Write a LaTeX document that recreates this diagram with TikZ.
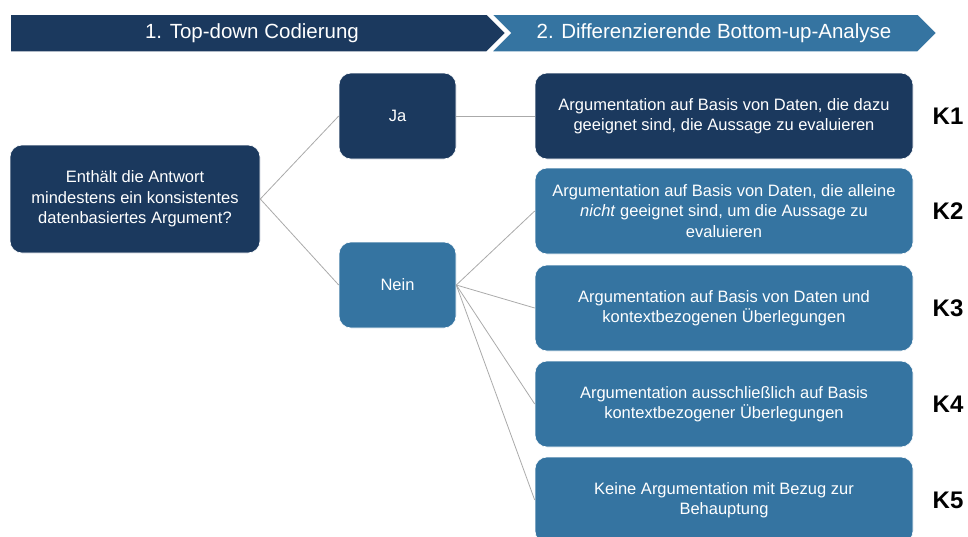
\documentclass[tikz,border=0pt]{standalone}
\usepackage{fontspec}
\setmainfont{Liberation Sans}
\definecolor{navy}{RGB}{27,57,94}
\definecolor{steel}{RGB}{53,116,161}
\definecolor{linegray}{RGB}{170,170,170}

\begin{document}
\begin{tikzpicture} [x = 1pt, y = -1pt,
	box/.style = {rounded corners = 12pt, draw = white, line width = 0.6pt, align = center, text = white, inner sep = 0pt, font = \fontsize{16.5}{20.5}\selectfont},
	dark/.style = {box, fill = navy},
	light/.style = {box, fill = steel},
	klabel/.style = {font = \fontsize{24}{28}\selectfont\bfseries},
	link/.style = {draw = linegray, line width = 0.8pt}]
	\clip (0,0) rectangle (968,536);
	% header
	\draw [fill = navy, draw = white, line width = 1.5pt] (10,14) -- (487,14) -- (506,33) -- (487,52) -- (10,52) -- cycle;
	\draw [fill = steel, draw = white, line width = 1.5pt] (491,14) -- (918,14) -- (937,33) -- (918,52) -- (491,52) -- (510,33) -- cycle;
	\node [text = white, font = \fontsize{20.5}{24}\selectfont] (head1) at (252,33) {1. Top-down Codierung};
	\node [text = white, font = \fontsize{20.5}{24}\selectfont] (head2) at (714,33) {2. Differenzierende Bottom-up-Analyse};
	% decision tree
	\node [dark, minimum width = 250pt, minimum height = 108pt] (frage) at (135,199) {Enthält die Antwort\\mindestens ein konsistentes\\datenbasiertes Argument?};
	\node [dark, minimum width = 117pt, minimum height = 86pt] (ja) at (397.5,116) {Ja};
	\node [light, minimum width = 117pt, minimum height = 86pt] (nein) at (397.5,285) {Nein};
	\node [dark, minimum width = 378pt, minimum height = 86pt] (k1) at (724,116) {Argumentation auf Basis von Daten, die dazu\\geeignet sind, die Aussage zu evaluieren};
	\node [light, minimum width = 378pt, minimum height = 86pt] (k2) at (724,211) {Argumentation auf Basis von Daten, die alleine\\\textit{nicht} geeignet sind, um die Aussage zu\\evaluieren};
	\node [light, minimum width = 378pt, minimum height = 86pt] (k3) at (724,308) {Argumentation auf Basis von Daten und\\kontextbezogenen Überlegungen};
	\node [light, minimum width = 378pt, minimum height = 86pt] (k4) at (724,404) {Argumentation ausschließlich auf Basis\\kontextbezogener Überlegungen};
	\node [light, minimum width = 378pt, minimum height = 86pt] (k5) at (724,500) {Keine Argumentation mit Bezug zur\\Behauptung};
	% category labels
	\node [klabel] (lab1) at (948,116) {K1};
	\node [klabel] (lab2) at (948,211) {K2};
	\node [klabel] (lab3) at (948,308) {K3};
	\node [klabel] (lab4) at (948,404) {K4};
	\node [klabel] (lab5) at (948,500) {K5};
	% connectors
	\draw [link] (frage.east) -- (ja.west);
	\draw [link] (frage.east) -- (nein.west);
	\draw [link] (ja.east) -- (k1.west);
	\foreach \k in {k2,k3,k4,k5}
		\draw [link] (nein.east) -- (\k.west);
\end{tikzpicture}
\end{document}
